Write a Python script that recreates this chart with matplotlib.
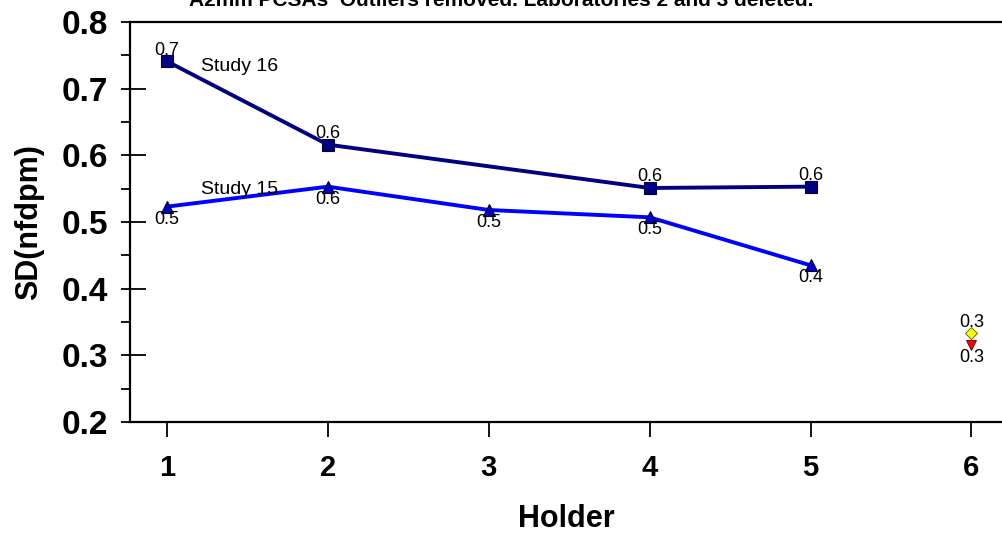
import matplotlib
matplotlib.use("Agg")
import matplotlib.pyplot as plt
from matplotlib.ticker import MultipleLocator

plt.rcParams['font.family'] = ['Liberation Sans', 'DejaVu Sans']

# data
holders_16 = [1, 2, 4, 5]
sd_16 = [0.741, 0.616, 0.551, 0.553]
holders_15 = [1, 2, 3, 4, 5]
sd_15 = [0.523, 0.553, 0.518, 0.507, 0.435]
holder_6 = [6]
sd_6_diamond = [0.333]
sd_6_tri = [0.315]

title = "A2mm PCSAs  Outliers removed. Laboratories 2 and 3 deleted."

fig = plt.figure(figsize=(10.02, 5.36), dpi=100)
ax = fig.add_axes([0.1297, 0.2127, 0.8703, 0.7463])

ax.plot(holders_16, sd_16, color='#000080', lw=2.8, marker='s', ms=9,
        mfc='#000080', mec='#000040', mew=0.8, zorder=3)
ax.plot(holders_15, sd_15, color='#0000FF', lw=2.8, marker='^', ms=8.5,
        mfc='#0000CC', mec='#000033', mew=0.8, zorder=3)
ax.plot(holder_6, sd_6_diamond, ls='none', marker='D', ms=6.5,
        mfc='#FFFF00', mec='#555500', mew=0.6, zorder=3)
ax.plot(holder_6, sd_6_tri, ls='none', marker='v', ms=7.5,
        mfc='#FF0000', mec='#550000', mew=0.6, zorder=3)

# value labels
fs_val = 13
for x, y in zip(holders_16, sd_16):
    ax.annotate(f"{y:.1f}", (x, y), xytext=(0, 2), textcoords='offset points',
                ha='center', va='bottom', fontsize=fs_val)
for x, y in zip(holders_15, sd_15):
    ax.annotate(f"{y:.1f}", (x, y), xytext=(0, -3), textcoords='offset points',
                ha='center', va='top', fontsize=fs_val)
ax.annotate(f"{sd_6_diamond[0]:.1f}", (6, sd_6_diamond[0]), xytext=(0, 2),
            textcoords='offset points', ha='center', va='bottom', fontsize=fs_val)
ax.annotate(f"{sd_6_tri[0]:.1f}", (6, sd_6_tri[0]), xytext=(0, -3),
            textcoords='offset points', ha='center', va='top', fontsize=fs_val)

ax.text(1.21, sd_16[0] - 0.008, "Study 16", fontsize=14, va='center')
ax.text(1.21, 0.548, "Study 15", fontsize=14, va='center')

ax.set_xlim(0.77, 6.19)
ax.set_ylim(0.2, 0.8)
ax.set_xticks([1, 2, 3, 4, 5, 6])
ax.yaxis.set_major_locator(MultipleLocator(0.1))
ax.yaxis.set_minor_locator(MultipleLocator(0.05))
ax.yaxis.remove_overlapping_locs = False
ax.set_yticklabels([f"{v:.1f}" for v in ax.get_yticks()])

for lab in ax.get_xticklabels():
    lab.set_fontweight('bold')
    lab.set_fontsize(21)
for lab in ax.get_yticklabels():
    lab.set_fontweight('bold')
    lab.set_fontsize(24)

ax.tick_params(axis='x', direction='out', length=11, width=1.3, pad=12)
ax.tick_params(axis='y', which='major', direction='in', length=11.5, width=1.3, pad=16)
ax.tick_params(axis='y', which='minor', direction='out', length=6.5, width=1.3)

for side in ['left', 'bottom', 'top']:
    ax.spines[side].set_linewidth(1.6)
ax.spines['right'].set_visible(False)

ax.set_xlabel("Holder", fontsize=22, fontweight='bold', labelpad=16)
ax.set_ylabel("SD(nfdpm)", fontsize=22, fontweight='bold', labelpad=12)

fig.text(0.5, 1.0, title, ha='center', va='center', fontsize=15, fontweight='bold')

fig.savefig("out.png", dpi=100)
